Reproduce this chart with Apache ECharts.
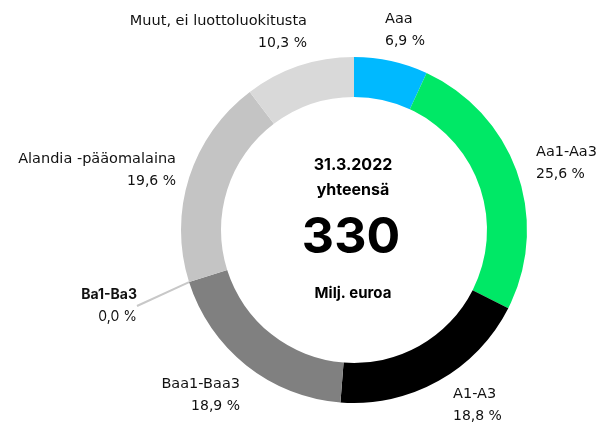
<!DOCTYPE html>
<html>
<head>
<meta charset="utf-8">
<script src="https://cdn.jsdelivr.net/npm/echarts@6/dist/echarts.min.js"></script>
<style>
  html, body { margin: 0; padding: 0; background: #fff; }
  #chart { width: 603px; height: 429px; }
</style>
</head>
<body>
<div id="chart"></div>
<script>
// luokat ja osuudet (%)
var categories = ['Aaa', 'Aa1-Aa3', 'A1-A3', 'Baa1-Baa3', 'Ba1-Ba3', 'Alandia -pääomalaina', 'Muut, ei luottoluokitusta'];
var shares = [6.9, 25.6, 18.8, 18.9, 0.0, 19.6, 10.3];
var colors = ['#00b9ff', '#00e866', '#000000', '#808080', '#bdbdbd', '#c4c4c4', '#d9d9d9'];

var centerDate = '31.3.2022';
var centerSub = 'yhteensä';
var centerTotal = '330';
var centerUnit = 'Milj. euroa';

// tekstien paikat (x, y, tasaus)
var labelPos = [
  [385, 8, 'left'],
  [536, 141, 'left'],
  [453, 383, 'left'],
  [240, 373, 'right'],
  [137, 284, 'right'],
  [176, 148, 'right'],
  [307, 10, 'right']
];

var chart = echarts.init(document.getElementById('chart'));

function fmt(v) {
  return v.toFixed(1).replace('.', ',') + ' %';
}

var data = categories.map(function (c, i) {
  return {
    name: c,
    value: shares[i],
    itemStyle: { color: colors[i] },
    labelLine: { show: shares[i] === 0 }
  };
});

var option = {
  animation: false,
  series: [{
    type: 'pie',
    center: [354, 230],
    radius: [133, 173],
    startAngle: 90,
    clockwise: true,
    avoidLabelOverlap: false,
    itemStyle: { borderWidth: 0, borderRadius: 0 },
    data: data,
    label: {
      show: true,
      formatter: function (p) {
        if (p.value === 0) {
          return '{b|' + p.name + '}\n{z|' + fmt(p.value) + '}';
        }
        return '{n|' + p.name + '}\n{v|' + fmt(p.value) + '}';
      },
      rich: {
        n: { fontFamily: 'DejaVu Sans', fontSize: 14.5, color: '#111', lineHeight: 22 },
        v: { fontFamily: 'DejaVu Sans', fontSize: 14, color: '#111', lineHeight: 22 },
        b: { fontFamily: 'Inter', fontSize: 14, fontWeight: 'bold', color: '#111', lineHeight: 22 },
        z: { fontFamily: 'Inter', fontSize: 14, color: '#111', lineHeight: 22 }
      }
    },
    labelLine: {
      length: 4,
      length2: 0,
      lineStyle: { color: '#c8c8c8', width: 2 }
    },
    labelLayout: function (params) {
      var p = labelPos[params.dataIndex];
      return { x: p[0], y: p[1], align: p[2], verticalAlign: 'top' };
    }
  }],
  graphic: [
    { type: 'text', x: 353, y: 157, style: { text: centerDate, align: 'center', verticalAlign: 'top', font: 'bold 16px Inter', fill: '#000' } },
    { type: 'text', x: 353, y: 182, style: { text: centerSub, align: 'center', verticalAlign: 'top', font: 'bold 16px Inter', fill: '#000' } },
    { type: 'text', x: 351, y: 213, style: { text: centerTotal, align: 'center', verticalAlign: 'top', font: 'bold 50px Inter', fill: '#000' } },
    { type: 'text', x: 353, y: 286, style: { text: centerUnit, align: 'center', verticalAlign: 'top', font: 'bold 15px Inter', fill: '#000' } }
  ]
};

chart.setOption(option);
</script>
</body>
</html>
